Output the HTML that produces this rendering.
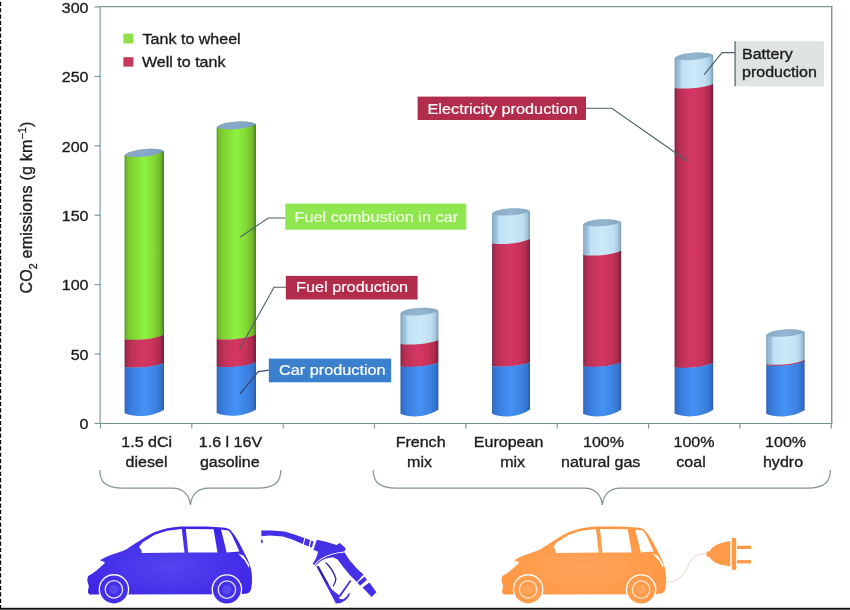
<!DOCTYPE html>
<html><head><meta charset="utf-8"><title>CO2 emissions</title>
<style>html,body{margin:0;padding:0;background:#fff;}body{width:850px;height:610px;overflow:hidden;}svg{display:block;}</style>
</head><body>
<svg width="850" height="610" viewBox="0 0 850 610" font-family="'Liberation Sans', sans-serif" font-size="16" fill="#1c1c1c">
<defs><linearGradient id="gG" x1="0" y1="0" x2="1" y2="0"><stop offset="0" stop-color="#4e8a22"/><stop offset="0.04" stop-color="#6fb82a"/><stop offset="0.12" stop-color="#7ccc30"/><stop offset="0.3" stop-color="#84de36"/><stop offset="0.5" stop-color="#8ef242"/><stop offset="0.75" stop-color="#82d834"/><stop offset="0.9" stop-color="#72bc2c"/><stop offset="0.96" stop-color="#5c9a26"/><stop offset="1" stop-color="#477a1e"/></linearGradient><linearGradient id="gR" x1="0" y1="0" x2="1" y2="0"><stop offset="0" stop-color="#6a2040"/><stop offset="0.05" stop-color="#a42a4e"/><stop offset="0.15" stop-color="#bc3056"/><stop offset="0.35" stop-color="#cc3660"/><stop offset="0.5" stop-color="#d43662"/><stop offset="0.75" stop-color="#c63258"/><stop offset="0.9" stop-color="#ac2a4e"/><stop offset="0.96" stop-color="#862444"/><stop offset="1" stop-color="#6c2040"/></linearGradient><linearGradient id="gB" x1="0" y1="0" x2="1" y2="0"><stop offset="0" stop-color="#285aa8"/><stop offset="0.04" stop-color="#3470cc"/><stop offset="0.2" stop-color="#3a80e0"/><stop offset="0.5" stop-color="#4692f4"/><stop offset="0.8" stop-color="#3c82e0"/><stop offset="0.94" stop-color="#3470cc"/><stop offset="1" stop-color="#2a58a0"/></linearGradient><linearGradient id="gL" x1="0" y1="0" x2="1" y2="0"><stop offset="0" stop-color="#6e96b4"/><stop offset="0.04" stop-color="#90b6d0"/><stop offset="0.13" stop-color="#a0c4dc"/><stop offset="0.19" stop-color="#c0e0f4"/><stop offset="0.5" stop-color="#caeaf8"/><stop offset="0.8" stop-color="#c0e0f2"/><stop offset="0.92" stop-color="#a4c8de"/><stop offset="1" stop-color="#789cb8"/></linearGradient><linearGradient id="gTopG" x1="0" y1="0" x2="1" y2="0"><stop offset="0" stop-color="#88a6c2"/><stop offset="0.5" stop-color="#88a8cc"/><stop offset="1" stop-color="#7c9cb8"/></linearGradient><linearGradient id="gTopL" x1="0" y1="0" x2="1" y2="0"><stop offset="0" stop-color="#88aac4"/><stop offset="0.5" stop-color="#94b6d0"/><stop offset="1" stop-color="#84a6c0"/></linearGradient></defs>
<rect width="850" height="610" fill="#fff"/>
<line x1="0.5" y1="1.8" x2="0.5" y2="608" stroke="#000" stroke-width="1.3" stroke-dasharray="4.2 2.15"/>
<rect x="0" y="607.8" width="850" height="1.2" fill="#111"/><rect x="0" y="609" width="850" height="1" fill="#555"/>
<path d="M100.4 6.6 H832.4" fill="none" stroke="#7f9a9c" stroke-width="1.1"/>
<path d="M831.7 6.2 V424" fill="none" stroke="#7f9a9c" stroke-width="1.5"/>
<path d="M100.1 6.2 V424 M100 423.4 H832.4" fill="none" stroke="#748e90" stroke-width="1.05"/>
<line x1="94.5" y1="7.0" x2="100.5" y2="7.0" stroke="#7f9a9c" stroke-width="1.2"/>
<text transform="translate(88.5 12.7) scale(1.035 1)" font-size="15.5" text-anchor="end" fill="#1c1c1c" stroke="#1c1c1c" stroke-width="0.35">300</text>
<line x1="94.5" y1="76.4" x2="100.5" y2="76.4" stroke="#7f9a9c" stroke-width="1.2"/>
<text transform="translate(88.5 82.1) scale(1.035 1)" font-size="15.5" text-anchor="end" fill="#1c1c1c" stroke="#1c1c1c" stroke-width="0.35">250</text>
<line x1="94.5" y1="145.8" x2="100.5" y2="145.8" stroke="#7f9a9c" stroke-width="1.2"/>
<text transform="translate(88.5 151.5) scale(1.035 1)" font-size="15.5" text-anchor="end" fill="#1c1c1c" stroke="#1c1c1c" stroke-width="0.35">200</text>
<line x1="94.5" y1="215.2" x2="100.5" y2="215.2" stroke="#7f9a9c" stroke-width="1.2"/>
<text transform="translate(88.5 220.9) scale(1.035 1)" font-size="15.5" text-anchor="end" fill="#1c1c1c" stroke="#1c1c1c" stroke-width="0.35">150</text>
<line x1="94.5" y1="284.6" x2="100.5" y2="284.6" stroke="#7f9a9c" stroke-width="1.2"/>
<text transform="translate(88.5 290.3) scale(1.035 1)" font-size="15.5" text-anchor="end" fill="#1c1c1c" stroke="#1c1c1c" stroke-width="0.35">100</text>
<line x1="94.5" y1="354.0" x2="100.5" y2="354.0" stroke="#7f9a9c" stroke-width="1.2"/>
<text transform="translate(88.5 359.7) scale(1.035 1)" font-size="15.5" text-anchor="end" fill="#1c1c1c" stroke="#1c1c1c" stroke-width="0.35">50</text>
<line x1="94.5" y1="423.4" x2="100.5" y2="423.4" stroke="#7f9a9c" stroke-width="1.2"/>
<text transform="translate(88.5 429.1) scale(1.035 1)" font-size="15.5" text-anchor="end" fill="#1c1c1c" stroke="#1c1c1c" stroke-width="0.35">0</text>
<line x1="100.5" y1="423.5" x2="100.5" y2="428.5" stroke="#7f9a9c" stroke-width="1.2"/>
<line x1="191.8" y1="423.5" x2="191.8" y2="428.5" stroke="#7f9a9c" stroke-width="1.2"/>
<line x1="283.2" y1="423.5" x2="283.2" y2="428.5" stroke="#7f9a9c" stroke-width="1.2"/>
<line x1="374.5" y1="423.5" x2="374.5" y2="428.5" stroke="#7f9a9c" stroke-width="1.2"/>
<line x1="465.9" y1="423.5" x2="465.9" y2="428.5" stroke="#7f9a9c" stroke-width="1.2"/>
<line x1="557.2" y1="423.5" x2="557.2" y2="428.5" stroke="#7f9a9c" stroke-width="1.2"/>
<line x1="648.6" y1="423.5" x2="648.6" y2="428.5" stroke="#7f9a9c" stroke-width="1.2"/>
<line x1="739.9" y1="423.5" x2="739.9" y2="428.5" stroke="#7f9a9c" stroke-width="1.2"/>
<line x1="831.3" y1="423.5" x2="831.3" y2="428.5" stroke="#7f9a9c" stroke-width="1.2"/>
<text transform="translate(32 293.6) rotate(-90)" textLength="172" lengthAdjust="spacing" stroke="#1c1c1c" stroke-width="0.35">CO<tspan font-size="10.5" dy="4.5">2</tspan><tspan dy="-4.5"> emissions (g km</tspan><tspan font-size="10.5" dy="-6">−1</tspan><tspan dy="6">)</tspan></text>
<rect x="123.4" y="33.6" width="10" height="9.8" fill="#8fe04a"/>
<rect x="123.4" y="57.2" width="10" height="9.4" fill="#c8385c"/>
<text transform="translate(142.6 43.5) scale(1.035 1)" font-size="15.5" text-anchor="start" fill="#1c1c1c" stroke="#1c1c1c" stroke-width="0.35">Tank to wheel</text>
<text transform="translate(142.0 66.7) scale(1.035 1)" font-size="15.5" text-anchor="start" fill="#1c1c1c" stroke="#1c1c1c" stroke-width="0.35">Well to tank</text>
<path d="M124.60 155.60 C126.96 149.10 160.06 146.10 164.00 151.30 L164.00 335.00 C152.97 340.00 134.45 340.80 124.60 339.50 Z" fill="url(#gG)"/><path d="M124.60 339.20 C134.45 340.50 152.97 339.70 164.00 334.70 L164.00 363.00 C152.97 367.80 134.45 368.60 124.60 367.30 Z" fill="url(#gR)"/><path d="M124.60 367.00 C134.45 368.30 152.97 367.50 164.00 362.70 L164.00 409.80 C152.97 416.90 134.45 417.90 124.60 413.30 Z" fill="url(#gB)"/><path d="M124.60 155.60 C126.96 149.10 160.06 146.10 164.00 151.30 C152.97 157.20 134.45 158.80 124.60 155.60 Z" fill="url(#gTopG)"/>
<path d="M216.70 127.80 C219.06 121.30 252.07 119.40 256.00 124.60 L256.00 334.80 C245.00 339.70 226.52 340.50 216.70 339.20 Z" fill="url(#gG)"/><path d="M216.70 338.90 C226.52 340.20 245.00 339.40 256.00 334.50 L256.00 362.40 C245.00 367.30 226.52 368.10 216.70 366.80 Z" fill="url(#gR)"/><path d="M216.70 366.50 C226.52 367.80 245.00 367.00 256.00 362.10 L256.00 409.40 C245.00 416.50 226.52 417.50 216.70 412.90 Z" fill="url(#gB)"/><path d="M216.70 127.80 C219.06 121.30 252.07 119.40 256.00 124.60 C245.00 129.40 226.52 131.00 216.70 127.80 Z" fill="url(#gTopG)"/>
<path d="M400.50 313.80 C402.77 307.30 434.61 305.80 438.40 311.00 L438.40 340.30 C427.79 344.80 409.98 345.60 400.50 344.30 Z" fill="url(#gL)"/><path d="M400.50 344.00 C409.98 345.30 427.79 344.50 438.40 340.00 L438.40 362.50 C427.79 367.00 409.98 367.80 400.50 366.50 Z" fill="url(#gR)"/><path d="M400.50 366.20 C409.98 367.50 427.79 366.70 438.40 362.20 L438.40 409.60 C427.79 417.40 409.98 418.40 400.50 413.80 Z" fill="url(#gB)"/><path d="M400.50 313.80 C402.77 307.30 434.61 305.80 438.40 311.00 C427.79 315.40 409.98 317.00 400.50 313.80 Z" fill="url(#gTopL)"/>
<path d="M492.10 213.90 C494.37 207.40 526.21 206.40 530.00 211.60 L530.00 239.30 C519.39 244.30 501.58 245.10 492.10 243.80 Z" fill="url(#gL)"/><path d="M492.10 243.50 C501.58 244.80 519.39 244.00 530.00 239.00 L530.00 362.30 C519.39 366.80 501.58 367.60 492.10 366.30 Z" fill="url(#gR)"/><path d="M492.10 366.00 C501.58 367.30 519.39 366.50 530.00 362.00 L530.00 409.60 C519.39 417.40 501.58 418.40 492.10 413.80 Z" fill="url(#gB)"/><path d="M492.10 213.90 C494.37 207.40 526.21 206.40 530.00 211.60 C519.39 215.50 501.58 217.10 492.10 213.90 Z" fill="url(#gTopL)"/>
<path d="M583.20 224.80 C585.48 218.30 617.40 217.40 621.20 222.60 L621.20 251.10 C610.56 255.80 592.70 256.60 583.20 255.30 Z" fill="url(#gL)"/><path d="M583.20 255.00 C592.70 256.30 610.56 255.50 621.20 250.80 L621.20 362.50 C610.56 367.00 592.70 367.80 583.20 366.50 Z" fill="url(#gR)"/><path d="M583.20 366.20 C592.70 367.50 610.56 366.70 621.20 362.20 L621.20 409.60 C610.56 417.40 592.70 418.40 583.20 413.80 Z" fill="url(#gB)"/><path d="M583.20 224.80 C585.48 218.30 617.40 217.40 621.20 222.60 C610.56 226.40 592.70 228.00 583.20 224.80 Z" fill="url(#gTopL)"/>
<path d="M674.60 58.50 C676.92 52.00 709.34 50.40 713.20 55.60 L713.20 84.20 C702.39 88.70 684.25 89.50 674.60 88.20 Z" fill="url(#gL)"/><path d="M674.60 87.90 C684.25 89.20 702.39 88.40 713.20 83.90 L713.20 363.00 C702.39 368.00 684.25 368.80 674.60 367.50 Z" fill="url(#gR)"/><path d="M674.60 367.20 C684.25 368.50 702.39 367.70 713.20 362.70 L713.20 409.80 C702.39 417.20 684.25 418.20 674.60 413.60 Z" fill="url(#gB)"/><path d="M674.60 58.50 C676.92 52.00 709.34 50.40 713.20 55.60 C702.39 60.10 684.25 61.70 674.60 58.50 Z" fill="url(#gTopL)"/>
<path d="M766.30 335.20 C768.60 328.70 800.77 327.00 804.60 332.20 L804.60 360.40 C793.88 365.10 775.88 365.90 766.30 364.60 Z" fill="url(#gL)"/><path d="M766.30 364.30 C775.88 365.60 793.88 364.80 804.60 360.10 L804.60 361.40 C793.88 366.10 775.88 366.90 766.30 365.60 Z" fill="url(#gR)"/><path d="M766.30 365.30 C775.88 366.60 793.88 365.80 804.60 361.10 L804.60 410.00 C793.88 417.30 775.88 418.30 766.30 413.70 Z" fill="url(#gB)"/><path d="M766.30 335.20 C768.60 328.70 800.77 327.00 804.60 332.20 C793.88 336.80 775.88 338.40 766.30 335.20 Z" fill="url(#gTopL)"/>
<polyline points="285.5,218 268.2,218 240.3,237" fill="none" stroke="#4a5f66" stroke-width="1.1"/>
<polyline points="286,287.3 274,287.3 239.4,349.6" fill="none" stroke="#4a5f66" stroke-width="1.1"/>
<polyline points="269,370.2 258.3,371.5 240,394" fill="none" stroke="#3a4a80" stroke-width="1.3"/>
<polyline points="586,108.2 611.8,108.2 687.7,161.2" fill="none" stroke="#4a5f66" stroke-width="1.1"/>
<polyline points="735,52.6 722,52.6 704.2,74.6" fill="none" stroke="#4a5f66" stroke-width="1.1"/>
<rect x="285.3" y="203.6" width="181.0" height="26.1" fill="#8fe64e"/><text transform="translate(294.5 222.3) scale(1.050 1)" font-size="15.5" text-anchor="start" fill="#f0ffe0" stroke="#f0ffe0" stroke-width="0.20">Fuel combustion in car</text>
<rect x="285.8" y="275.9" width="131.8" height="23.6" fill="#b22c4c"/><text transform="translate(296.0 292.0) scale(1.050 1)" font-size="15.5" text-anchor="start" fill="#fff" stroke="#fff" stroke-width="0.20">Fuel production</text>
<rect x="268.8" y="358.6" width="122.4" height="23.7" fill="#3a80cc"/><text transform="translate(279.0 375.0) scale(1.050 1)" font-size="15.5" text-anchor="start" fill="#fff" stroke="#fff" stroke-width="0.20">Car production</text>
<rect x="417.6" y="96.6" width="168.4" height="23.4" fill="#b22c4c"/><text transform="translate(427.5 114.2) scale(1.050 1)" font-size="15.5" text-anchor="start" fill="#fff" stroke="#fff" stroke-width="0.20">Electricity production</text>
<rect x="735" y="41.2" width="89" height="45.2" fill="#dfe4e1"/><rect x="734.3" y="41.2" width="1.6" height="45.2" fill="#6f8486"/>
<text transform="translate(742.0 59.0) scale(1.035 1)" font-size="15.5" text-anchor="start" fill="#1c1c1c" stroke="#1c1c1c" stroke-width="0.35">Battery</text><text transform="translate(742.0 77.4) scale(1.035 1)" font-size="15.5" text-anchor="start" fill="#1c1c1c" stroke="#1c1c1c" stroke-width="0.35">production</text>
<text transform="translate(146.7 447.4) scale(1.035 1)" font-size="15.5" text-anchor="middle" fill="#1c1c1c" stroke="#1c1c1c" stroke-width="0.35">1.5 dCi</text><text transform="translate(146.5 467.3) scale(1.035 1)" font-size="15.5" text-anchor="middle" fill="#1c1c1c" stroke="#1c1c1c" stroke-width="0.35">diesel</text>
<text transform="translate(230.5 447.4) scale(1.035 1)" font-size="15.5" text-anchor="middle" fill="#1c1c1c" stroke="#1c1c1c" stroke-width="0.35">1.6 l 16V</text><text transform="translate(229.8 467.3) scale(1.035 1)" font-size="15.5" text-anchor="middle" fill="#1c1c1c" stroke="#1c1c1c" stroke-width="0.35">gasoline</text>
<text transform="translate(420.6 447.4) scale(1.035 1)" font-size="15.5" text-anchor="middle" fill="#1c1c1c" stroke="#1c1c1c" stroke-width="0.35">French</text><text transform="translate(419.5 467.3) scale(1.035 1)" font-size="15.5" text-anchor="middle" fill="#1c1c1c" stroke="#1c1c1c" stroke-width="0.35">mix</text>
<text transform="translate(508.6 447.4) scale(1.035 1)" font-size="15.5" text-anchor="middle" fill="#1c1c1c" stroke="#1c1c1c" stroke-width="0.35">European</text><text transform="translate(512.6 467.3) scale(1.035 1)" font-size="15.5" text-anchor="middle" fill="#1c1c1c" stroke="#1c1c1c" stroke-width="0.35">mix</text>
<text transform="translate(603.5 447.4) scale(1.035 1)" font-size="15.5" text-anchor="middle" fill="#1c1c1c" stroke="#1c1c1c" stroke-width="0.35">100%</text><text transform="translate(600.7 467.3) scale(1.035 1)" font-size="15.5" text-anchor="middle" fill="#1c1c1c" stroke="#1c1c1c" stroke-width="0.35">natural gas</text>
<text transform="translate(694.0 447.4) scale(1.035 1)" font-size="15.5" text-anchor="middle" fill="#1c1c1c" stroke="#1c1c1c" stroke-width="0.35">100%</text><text transform="translate(691.0 467.3) scale(1.035 1)" font-size="15.5" text-anchor="middle" fill="#1c1c1c" stroke="#1c1c1c" stroke-width="0.35">coal</text>
<text transform="translate(785.6 447.4) scale(1.035 1)" font-size="15.5" text-anchor="middle" fill="#1c1c1c" stroke="#1c1c1c" stroke-width="0.35">100%</text><text transform="translate(783.0 467.3) scale(1.035 1)" font-size="15.5" text-anchor="middle" fill="#1c1c1c" stroke="#1c1c1c" stroke-width="0.35">hydro</text>
<path d="M99.8 470.0 C99.8 482.0 105.8 488.2 122.8 488.2 L172.4 488.2 C183.4 488.2 189.4 495.2 190.4 505.0 C191.4 495.2 197.4 488.2 208.4 488.2 L257.8 488.2 C274.8 488.2 280.8 482.0 280.8 470.0" fill="none" stroke="#829494" stroke-width="1.25"/>
<path d="M373.2 470.0 C373.2 482.0 379.2 488.2 396.2 488.2 L584.3 488.2 C595.3 488.2 601.3 495.2 602.3 505.0 C603.3 495.2 609.3 488.2 620.3 488.2 L807.4 488.2 C824.4 488.2 830.4 482.0 830.4 470.0" fill="none" stroke="#829494" stroke-width="1.25"/>
<defs><radialGradient id="cB" cx="0.5" cy="0.6" r="0.6"><stop offset="0" stop-color="#5444ee"/><stop offset="0.6" stop-color="#4732ea"/><stop offset="1" stop-color="#3d24e6"/></radialGradient><radialGradient id="cO" cx="0.5" cy="0.6" r="0.6"><stop offset="0" stop-color="#ffa45c"/><stop offset="0.6" stop-color="#ff9c4c"/><stop offset="1" stop-color="#ff9642"/></radialGradient></defs><g transform="translate(0 0)"><path d="M89.4 594.4 Q87.6 593 87.9 591 L88.9 586.2 L87.4 581.3 Q87.2 578 87.9 576.4 Q89.5 574.6 91.8 573.9 L97.7 569.5 L104.6 563.2 L104.6 562.1 L99.7 560.2 Q105 557 111.5 554.7 L123.3 550.8 Q128 548.5 131.2 545.9 L142.3 539.1 Q148 535.2 154.8 532.1 Q161 529.6 167.2 528.2 Q174 526.8 181 526.4 L206.7 526.6 L222.3 527.6 Q228.5 528 230.8 530.4 Q234.5 534.5 237.9 540.4 Q241.5 547 244.9 553.9 Q248.5 560 250.3 566.4 Q252 572 252 577.3 Q252.2 583.5 251.3 588.2 Q250.4 592.6 247.2 593.4 L241 594.2 Z" fill="url(#cB)"/><path d="M141.6 553 L141.7 551 L139.2 546.8 L142.6 542.4 L154.8 534.7 L167.2 530.8 L181.8 529.1 L184.5 552.6 Z M185.8 529.1 L213.6 529.2 L217.5 552.4 L188.2 552.6 Z M221 529.6 L228.3 530.4 Q231.5 533 234.2 540 L239.4 551.6 L226.7 552.5 Z M238 553.6 L243.6 555.8 L249.4 565 L248.9 567.8 L244.6 560.2 Z" fill="#fff"/><circle cx="113.9" cy="589.4" r="15.3" fill="#fff"/><circle cx="113.9" cy="589.4" r="14" fill="#4530ea"/><circle cx="113.9" cy="589.4" r="8.7" fill="none" stroke="#e8e4ff" stroke-width="1.3"/><circle cx="113.9" cy="589.4" r="4.5" fill="#5a48ee"/><circle cx="226.9" cy="589.6" r="15.3" fill="#fff"/><circle cx="226.9" cy="589.6" r="14" fill="#4530ea"/><circle cx="226.9" cy="589.6" r="8.7" fill="none" stroke="#e8e4ff" stroke-width="1.3"/><circle cx="226.9" cy="589.6" r="4.5" fill="#5a48ee"/></g><g fill="#4530e6"><path d="M261.2 530.6 L271.4 530.6 L284.6 531.5 L294.5 534.4 L304.4 538.1 L302.7 543.9 L292.8 539.8 L283 536.5 L269.8 535.6 L261.5 536.2 Z"/><path d="M261 539.6 L262.6 539.8 L262.8 543.2 L260.9 542.6 Z"/><path d="M305.4 538.2 L310.1 540 L308.5 546.4 L303.7 544.4 Z"/><path d="M311.4 540.5 L313.5 541.4 L311.9 547.6 L309.7 546.7 Z"/><path d="M316.8 539.8 L326 541.8 L336.5 545.1 L339.8 543 L345.9 548.4 L344.3 551.4 Q330 552.5 320.5 558.8 Q316.5 561.8 314 565 L312.6 564 L316.1 558.2 L318.1 551.8 L313.4 549.8 Z"/><path d="M344.6 552.6 L349.6 560.2 L357.5 569.3 L363.5 574.6 L356.8 581.9 L349.6 574.8 L343 566.8 L337.8 559.8 L333.2 557.2 Q325.5 557.6 320.2 561.4 Q317 563.8 315.2 566.6 L314.6 566 Q317.5 561.6 321.5 559.2 Q330.5 553.8 344.6 552.6 Z"/><path d="M316.4 566.6 L318.8 566 L331.8 589.4 L339.1 595.2 L350 580 L351.4 581 L340.6 596.4 L338.4 597.8 Q340.5 599.6 343.2 599.3 Q347 597 348.6 593.5 L349.9 592.4 Q349.5 597 345.5 600.2 Q341 603.6 335.9 603.5 Z"/><path d="M357.5 582.4 L364.6 576.6 L367 579.8 L360 585.8 Z"/><path d="M362.6 587.6 L369.4 582.6 L376.4 592.2 L371.6 597 Z"/></g><path d="M325.6 562.4 Q333 569 335.9 578.8 Q335.5 583 333 586.2 M317.8 566.6 L327.5 584" fill="none" stroke="#2c2494" stroke-width="1.3"/><g transform="translate(414.2 0)"><path d="M89.4 594.4 Q87.6 593 87.9 591 L88.9 586.2 L87.4 581.3 Q87.2 578 87.9 576.4 Q89.5 574.6 91.8 573.9 L97.7 569.5 L104.6 563.2 L104.6 562.1 L99.7 560.2 Q105 557 111.5 554.7 L123.3 550.8 Q128 548.5 131.2 545.9 L142.3 539.1 Q148 535.2 154.8 532.1 Q161 529.6 167.2 528.2 Q174 526.8 181 526.4 L206.7 526.6 L222.3 527.6 Q228.5 528 230.8 530.4 Q234.5 534.5 237.9 540.4 Q241.5 547 244.9 553.9 Q248.5 560 250.3 566.4 Q252 572 252 577.3 Q252.2 583.5 251.3 588.2 Q250.4 592.6 247.2 593.4 L241 594.2 Z" fill="url(#cO)"/><path d="M141.6 553 L141.7 551 L139.2 546.8 L142.6 542.4 L154.8 534.7 L167.2 530.8 L181.8 529.1 L184.5 552.6 Z M185.8 529.1 L213.6 529.2 L217.5 552.4 L188.2 552.6 Z M221 529.6 L228.3 530.4 Q231.5 533 234.2 540 L239.4 551.6 L226.7 552.5 Z M238 553.6 L243.6 555.8 L249.4 565 L248.9 567.8 L244.6 560.2 Z" fill="#fff"/><circle cx="113.9" cy="589.4" r="15.3" fill="#fff"/><circle cx="113.9" cy="589.4" r="14" fill="#ff9c4c"/><circle cx="113.9" cy="589.4" r="8.7" fill="none" stroke="#ffe4c8" stroke-width="1.3"/><circle cx="113.9" cy="589.4" r="4.5" fill="#ffa55c"/><circle cx="226.9" cy="589.6" r="15.3" fill="#fff"/><circle cx="226.9" cy="589.6" r="14" fill="#ff9c4c"/><circle cx="226.9" cy="589.6" r="8.7" fill="none" stroke="#ffe4c8" stroke-width="1.3"/><circle cx="226.9" cy="589.6" r="4.5" fill="#ffa55c"/></g><path d="M666.8 582 C676 582.6 681 578 685.9 570.5 C689 563 691.5 557 698.1 554.6 C701 553.8 703.5 553.6 706.8 553.6" fill="none" stroke="#f2dcd8" stroke-width="1.1"/><g fill="#ff9a48"><path d="M730.3 541.2 L728 541.3 Q713 544 709.3 551.4 L706.6 551.6 L706.6 556.8 L709.4 557 Q713 564.4 728 565.9 L730.3 566 Z"/><rect x="731.8" y="538" width="4.4" height="31.8"/><rect x="737" y="545.7" width="14" height="3.3"/><rect x="737" y="560.1" width="14" height="3.3"/></g>
</svg>
</body></html>
